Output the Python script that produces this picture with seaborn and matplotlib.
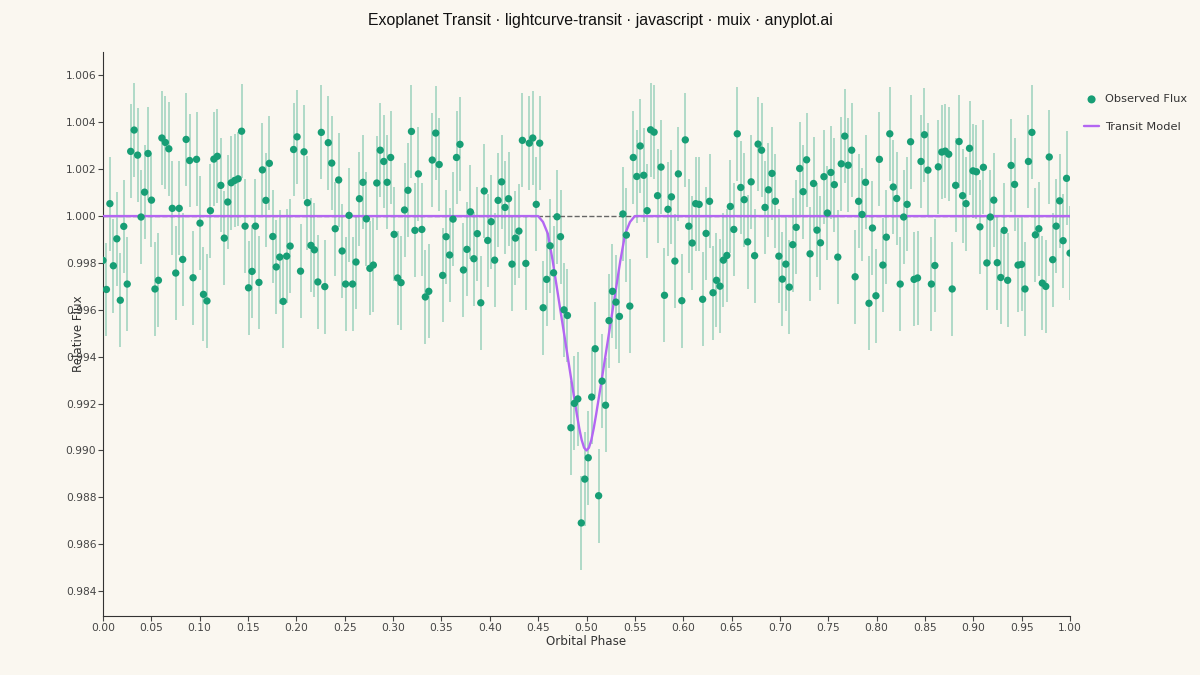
import numpy as np
import pandas as pd
import matplotlib
matplotlib.use("Agg")
import matplotlib.pyplot as plt
import seaborn as sns
from matplotlib.ticker import MultipleLocator, FormatStrFormatter

# --- Data ---
N_POINTS = 280          # evenly sampled in orbital phase 0..1
FLUX_ERR = 0.002        # same error bar on every point

flux = [
    0.99811, 0.99687, 1.00053, 0.99788, 0.99903, 0.99641, 0.99956, 0.99710, 1.00276, 1.00367,
    1.00260, 0.99996, 1.00102, 1.00267, 1.00068, 0.99689, 0.99726, 1.00333, 1.00314, 1.00287,
    1.00033, 0.99757, 1.00033, 0.99815, 1.00327, 1.00237, 0.99737, 1.00242, 0.99970, 0.99666,
    0.99638, 1.00023, 1.00243, 1.00255, 1.00131, 0.99906,
    1.00060, 1.00142, 1.00152, 1.00159, 1.00362, 0.99957, 0.99694, 0.99764, 0.99957, 0.99717,
    1.00197, 1.00067, 1.00225, 0.99913, 0.99783, 0.99825, 0.99636, 0.99829, 0.99872, 1.00284,
    1.00338, 0.99765, 1.00274, 1.00057, 0.99875, 0.99856, 0.99719, 1.00357, 0.99699, 1.00313,
    1.00226, 0.99946, 1.00154, 0.99851,
    0.99710, 1.00003, 0.99710, 0.99804, 1.00074, 1.00144, 0.99988, 0.99777, 0.99791, 1.00141,
    1.00281, 1.00233, 1.00144, 1.00250, 0.99922, 0.99736, 0.99716, 1.00026, 1.00110, 1.00361,
    0.99939, 1.00180, 0.99943, 0.99655, 0.99679, 1.00239, 1.00354, 1.00220, 0.99747, 0.99912,
    0.99834, 0.99987, 1.00250, 1.00306, 0.99770,
    0.99858, 1.00018, 0.99818, 0.99925, 0.99630, 1.00107, 0.99896, 0.99976, 0.99812, 1.00067,
    1.00146, 1.00037, 1.00074, 0.99795, 0.99906, 0.99936, 1.00323, 0.99798, 1.00311, 1.00333,
    1.00050, 1.00311, 0.99609, 0.99730, 0.99873, 0.99758, 0.99997, 0.99912, 0.99600, 0.99576,
    0.99097, 0.99201, 0.99220, 0.98691, 0.98878, 0.98969, 0.99228, 0.99434, 0.98807, 0.99296,
    0.99193, 0.99554, 0.99679, 0.99633, 0.99572, 1.00009, 0.99919, 0.99616,
    1.00250, 1.00169, 1.00299, 1.00174, 1.00023, 1.00368, 1.00358, 1.00087, 1.00209, 0.99662,
    1.00029, 1.00082, 0.99808, 1.00180, 0.99639, 1.00325, 0.99957, 0.99885, 1.00053, 1.00050,
    0.99645,
    0.99926, 1.00063, 0.99673, 0.99726, 0.99701, 0.99812, 0.99832, 1.00041, 0.99943, 1.00351,
    1.00122, 1.00070, 0.99890, 1.00146, 0.99831, 1.00307, 1.00281, 1.00037, 1.00112, 1.00182,
    1.00063, 0.99829, 0.99731, 0.99795, 0.99697, 0.99878, 0.99952, 1.00203, 1.00104, 1.00240,
    0.99839, 1.00139, 0.99940, 0.99886, 1.00168,
    1.00013, 1.00186, 1.00134, 0.99825, 1.00223, 1.00341, 1.00217, 1.00281, 0.99741, 1.00063,
    1.00007, 1.00144, 0.99628, 0.99949, 0.99660, 1.00242, 0.99791, 0.99910, 1.00351, 1.00124,
    1.00075, 0.99710, 0.99996, 1.00050, 1.00317, 0.99730, 0.99736, 1.00233, 1.00347, 1.00196,
    0.99710, 0.99789, 1.00210, 1.00273,
    1.00277, 1.00264, 0.99689, 1.00131, 1.00318, 1.00087, 1.00053, 1.00289, 1.00193, 1.00189,
    0.99954, 1.00208, 0.99800, 0.99996, 1.00068, 0.99801, 0.99738, 0.99939, 0.99726, 1.00216,
    1.00135, 0.99791, 0.99794, 0.99689, 1.00233, 1.00357, 0.99920, 0.99946, 0.99714, 0.99700,
    1.00252, 0.99814, 0.99957, 1.00065, 0.99895, 1.00161, 0.99842,
]

model_phase = [0.0, 0.450, 0.455, 0.460, 0.465, 0.470, 0.475, 0.480, 0.485, 0.490, 0.4925, 0.495,
               0.4975, 0.500, 0.5025, 0.505, 0.5075, 0.510, 0.515, 0.520, 0.525, 0.530, 0.535,
               0.540, 0.545, 0.550, 1.0]
model_flux = [1.0, 1.0, 0.99975, 0.99925, 0.99810, 0.99678, 0.99546, 0.99415, 0.99283, 0.99155,
              0.99095, 0.99045, 0.99012, 0.99000, 0.99012, 0.99045, 0.99095, 0.99155, 0.99283,
              0.99415, 0.99546, 0.99678, 0.99810, 0.99925, 0.99975, 1.0, 1.0]

TITLE = "Exoplanet Transit · lightcurve-transit · javascript · muix · anyplot.ai"
BG = "#FAF7F0"
POINT_COLOR = "#179E75"
MODEL_COLOR = "#B366F2"
INK = "#333333"

sns.set_theme(style="ticks")
plt.rcParams["font.family"] = ["DejaVu Sans"]

obs = pd.DataFrame({"phase": np.linspace(0, 1, N_POINTS), "flux": flux})
model = pd.DataFrame({"phase": model_phase, "flux": model_flux})

fig = plt.figure(figsize=(12, 6.75), dpi=100, facecolor=BG)
ax = fig.add_axes([0.0858, 0.0874, 0.8059, 0.8356])
ax.set_facecolor(BG)

# error bars, reference line, model, then points on top
ax.errorbar(obs["phase"], obs["flux"], yerr=FLUX_ERR, fmt="none",
            ecolor=POINT_COLOR, alpha=0.35, elinewidth=1.3, zorder=1)
ax.axhline(1.0, color="#666666", ls="--", lw=1, zorder=2)
sns.lineplot(data=model, x="phase", y="flux", color=MODEL_COLOR, lw=1.7,
             ax=ax, zorder=3, label="Transit Model")
sns.scatterplot(data=obs, x="phase", y="flux", color=POINT_COLOR, s=28,
                edgecolor="none", ax=ax, zorder=4, label="Observed Flux")

ax.set_xlim(0, 1)
ax.set_ylim(0.98294, 1.00700)
ax.xaxis.set_major_locator(MultipleLocator(0.05))
ax.xaxis.set_major_formatter(FormatStrFormatter("%.2f"))
ax.yaxis.set_major_locator(MultipleLocator(0.002))
ax.yaxis.set_major_formatter(FormatStrFormatter("%.3f"))
ax.tick_params(labelsize=7.7, colors="#444444", length=3.6, width=0.8, pad=1.2)

sns.despine(ax=ax)
for side in ["left", "bottom"]:
    ax.spines[side].set_color(INK)
    ax.spines[side].set_linewidth(0.8)

ax.set_xlabel("Orbital Phase", fontsize=8.6, color=INK, labelpad=2)
ax.set_ylabel("Relative Flux", fontsize=8.6, color=INK)
ax.yaxis.set_label_coords(-0.019, 0.5)

handles, labels = ax.get_legend_handles_labels()
order = [labels.index("Observed Flux"), labels.index("Transit Model")]
ax.legend([handles[i] for i in order], [labels[i] for i in order],
          loc="upper left", bbox_to_anchor=(1.004, 0.943), frameon=False,
          fontsize=8.2, handlelength=1.3, handletextpad=0.5, labelspacing=1.55,
          labelcolor=INK, markerscale=1.1)

fig.text(0.5, 0.969, TITLE, ha="center", va="center", fontsize=11.4, color="#111111",
         family=["Liberation Sans", "DejaVu Sans"])

fig.savefig("out.png", dpi=100, facecolor=BG)
plt.close(fig)
